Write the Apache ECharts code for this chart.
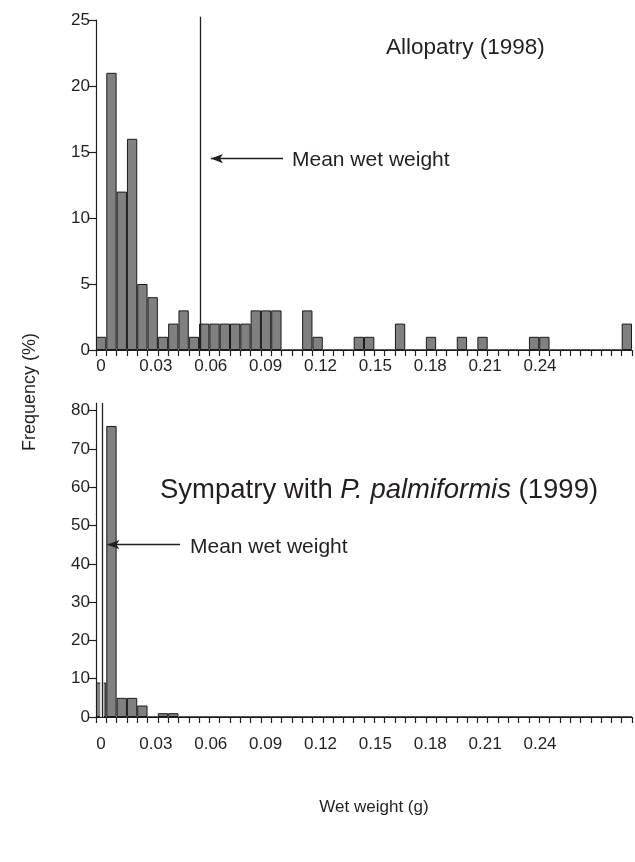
<!DOCTYPE html>
<html><head><meta charset="utf-8">
<script src="https://cdn.jsdelivr.net/npm/echarts@6/dist/echarts.min.js"></script>
<style>html,body{margin:0;padding:0;background:#fff}#c{width:635px;height:862px}</style>
</head><body><div id="c"></div>
<script>
// ---- data ----
const binCount = 52;
const tickLabelValues = [0, 0.03, 0.06, 0.09, 0.12, 0.15, 0.18, 0.21, 0.24];
const allopatry1998 = [1,21,12,16,5,4,1,2,3,1, 2,2,2,2,2,3,3,3,0,0, 3,1,0,0,0,1,1,0,0,2, 0,0,1,0,0,1,0,1,0,0, 0,0,1,1,0,0,0,0,0,0, 0,2];
const sympatry1999 = [9,76,5,5,3,0,1,1, 0,0,0,0,0,0,0,0,0,0,0,0, 0,0,0,0,0,0,0,0,0,0, 0,0,0,0,0,0,0,0,0,0, 0,0,0,0,0,0,0,0,0,0, 0,0];
const meanAllopatry = 0.054;   // g
const meanSympatry = 0.0005;   // g
const arrowAllopatry = { from: 0.0995, to: 0.0601, y: 14.5 };
const arrowSympatry = { from: 0.0432, to: 0.0035, y: 45 };

const categories = Array.from({length: binCount}, (_, i) => 'b' + i);
const FONT = "'Liberation Sans', Arial, Helvetica, sans-serif";
const ink = '#231f20';

// layout
const G = [
  { top: 20, height: 330, ymax: 25, yint: 5, annTop: 16.7, annMax: 25.25, labelMargin: 8 },
  { top: 403, height: 314, ymax: 82, yint: 10, annTop: 403, annMax: 82, labelMargin: 19 }
];

const grids = [], xAxes = [], yAxes = [];
G.forEach((g, i) => {
  grids.push({ left: 96, top: g.top, width: 536, height: g.height });
  grids.push({ left: 101, top: g.annTop, width: 439, height: g.top + g.height - g.annTop });
  xAxes.push({
    type: 'category', gridIndex: i * 2, data: categories, boundaryGap: true,
    axisLine: { lineStyle: { color: ink, width: 1.2 } },
    axisTick: { show: true, interval: 0, length: 6, lineStyle: { color: ink, width: 1.2 } },
    axisLabel: { show: false }, splitLine: { show: false }
  });
  xAxes.push({
    type: 'value', gridIndex: i * 2 + 1, min: 0, max: 0.24, interval: 0.03,
    axisLine: { show: false }, axisTick: { show: false }, splitLine: { show: false },
    axisLabel: {
      color: ink, fontSize: 17, fontFamily: FONT, margin: g.labelMargin,
      showMinLabel: true, showMaxLabel: true,
      formatter: (v) => { const k = tickLabelValues.findIndex(t => Math.abs(t - v) < 1e-9); return k >= 0 ? (v === 0 ? '0' : tickLabelValues[k].toFixed(2)) : ''; }
    }
  });
  yAxes.push({
    type: 'value', gridIndex: i * 2, min: 0, max: g.ymax, interval: g.yint,
    axisLine: { show: true, lineStyle: { color: ink, width: 1.2 } },
    axisTick: { show: true, length: 8, lineStyle: { color: ink, width: 1.2 } },
    axisLabel: { color: ink, fontSize: 17, fontFamily: FONT, margin: 6 },
    splitLine: { show: false }
  });
  yAxes.push({ type: 'value', gridIndex: i * 2 + 1, min: 0, max: g.annMax, show: false });
});

function bars(data, gi) {
  return {
    type: 'bar', xAxisIndex: gi * 2, yAxisIndex: gi * 2, data,
    barCategoryGap: '0%', barGap: '0%',
    itemStyle: { color: '#808080', borderColor: '#1a1a1a', borderWidth: 1 },
    silent: true
  };
}
function annot(gi, mean, arrow, halo) {
  const top = G[gi].annMax;
  const solid = (color, width) => ({ color, width, type: 'solid' });
  const lines = [];
  if (halo) lines.push([{ coord: [mean, 0], lineStyle: solid('#fff', 3.5) }, { coord: [mean, top] }]);
  lines.push([{ coord: [mean, 0], lineStyle: solid(ink, 1.3) }, { coord: [mean, top] }]);
  lines.push([
    { coord: [arrow.from, arrow.y], symbol: 'none', lineStyle: solid(ink, 1.3) },
    { coord: [arrow.to, arrow.y], symbol: 'arrow', symbolSize: [7, 12] }
  ]);
  return {
    type: 'line', xAxisIndex: gi * 2 + 1, yAxisIndex: gi * 2 + 1, data: [], silent: true, clip: false,
    markLine: { silent: true, symbol: 'none', label: { show: false }, animation: false, data: lines }
  };
}

const chart = echarts.init(document.getElementById('c'), null, { renderer: 'canvas' });
chart.setOption({
  animation: false,
  backgroundColor: '#fff',
  grid: grids,
  xAxis: xAxes,
  yAxis: yAxes,
  series: [
    bars(allopatry1998, 0),
    bars(sympatry1999, 1),
    annot(0, meanAllopatry, arrowAllopatry, false),
    annot(1, meanSympatry, arrowSympatry, true)
  ],
  title: [
    { text: 'Allopatry (1998)', left: 386, top: 36, padding: 0, textStyle: { fontSize: 22.5, fontWeight: 'normal', color: ink, fontFamily: FONT } },
    { text: 'Mean wet weight', left: 292, top: 150, padding: 0, textStyle: { fontSize: 21, fontWeight: 'normal', color: ink, fontFamily: FONT } },
    { text: 'Sympatry with {i|P. palmiformis} (1999)', left: 160, top: 476, padding: 0,
      textStyle: { fontSize: 27.5, fontWeight: 'normal', color: ink, fontFamily: FONT,
        rich: { i: { fontSize: 27.5, fontStyle: 'italic', color: ink, fontFamily: FONT } } } },
    { text: 'Mean wet weight', left: 190, top: 537, padding: 0, textStyle: { fontSize: 21, fontWeight: 'normal', color: ink, fontFamily: FONT } }
  ],
  graphic: [
    { type: 'text', x: 30, y: 392, rotation: Math.PI / 2,
      style: { text: 'Frequency (%)', font: '18px ' + FONT, fill: ink, align: 'center', verticalAlign: 'middle' } },
    { type: 'text', x: 374, y: 807,
      style: { text: 'Wet weight (g)', font: '17px ' + FONT, fill: ink, align: 'center', verticalAlign: 'middle' } }
  ]
});
</script></body></html>
